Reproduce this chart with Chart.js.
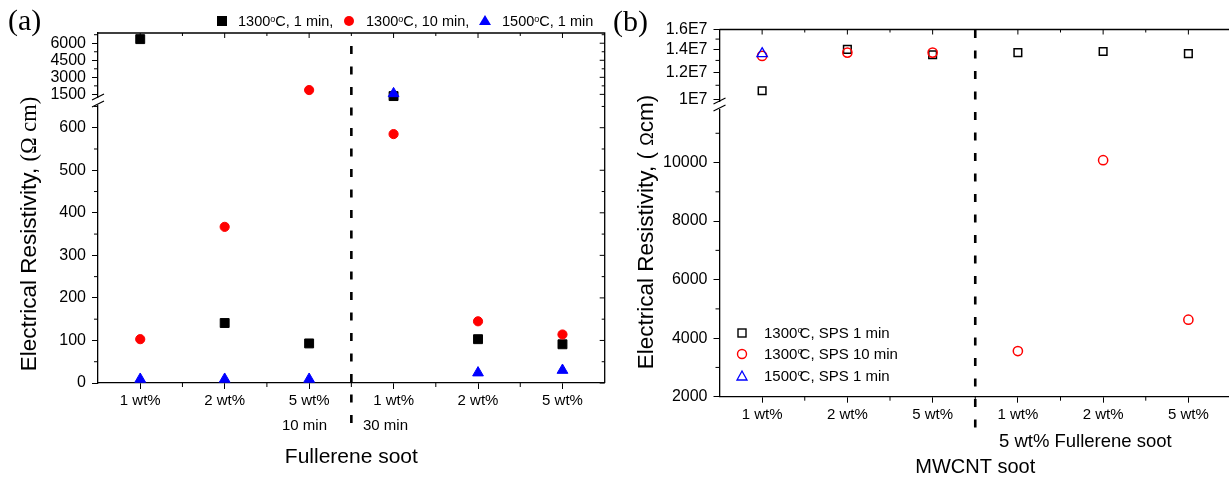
<!DOCTYPE html>
<html>
<head>
<meta charset="utf-8">
<script src="https://cdn.jsdelivr.net/npm/chart.js@4.4.1/dist/chart.umd.min.js"></script>
<style>
html, body { margin: 0; padding: 0; background: #fff; overflow: hidden; }
#wrap { position: relative; width: 1229px; height: 479px; overflow: hidden; font-family: Arial, "Liberation Sans", sans-serif; color: #000; }
.box { position: absolute; top: 0; height: 479px; }
#boxA { left: 0; width: 612px; }
#boxB { left: 612px; width: 630px; }
.t { position: absolute; white-space: nowrap; }
sup { font-size: 0.62em; vertical-align: 0.5em; line-height: 0; }
.ytitle { position: absolute; white-space: nowrap; transform: translate(-50%, -50%) rotate(-90deg); font-size: 22.5px; line-height: 26px; }
svg { position: absolute; overflow: visible; }
</style>
</head>
<body>
<div id="wrap">
  <div class="box" id="boxA"><canvas id="chartA"></canvas></div>
  <div class="box" id="boxB"><canvas id="chartB"></canvas></div>

  <!-- panel letters -->
  <div class="t" style="left:8px; top:2px; font-family:'Liberation Serif','Times New Roman',serif; font-size:30px; line-height:36px;">(a)</div>
  <div class="t" style="left:613px; top:3px; font-family:'Liberation Serif','Times New Roman',serif; font-size:30px; line-height:36px;">(b)</div>

  <!-- y titles -->
  <div class="ytitle" style="left:29px; top:234px;">Electrical Resistivity, <span style="font-family:'Liberation Serif','Times New Roman',serif;">(Ω cm)</span></div>
  <div class="ytitle" style="left:646px; top:232px;">Electrical Resistivity, ( <span style="font-size:0.8em;">Ω</span>cm)</div>

  <!-- legend (a) -->
  <svg style="left:217px; top:16px;" width="10" height="10"><rect x="0" y="0" width="10" height="10" fill="#000"/></svg>
  <div class="t" style="left:238px; top:12px; font-size:14.5px; line-height:18px;">1300<sup>o</sup>C, 1 min,</div>
  <svg style="left:344px; top:16px;" width="10" height="10"><circle cx="5" cy="5" r="5" fill="#f00"/></svg>
  <div class="t" style="left:366px; top:12px; font-size:14.5px; line-height:18px;">1300<sup>o</sup>C, 10 min,</div>
  <svg style="left:479px; top:15px;" width="12" height="10"><polygon points="6,0 12,10 0,10" fill="#00f"/></svg>
  <div class="t" style="left:502px; top:12px; font-size:14.5px; line-height:18px;">1500<sup>o</sup>C, 1 min</div>

  <!-- legend (b) -->
  <svg style="left:738px; top:329px;" width="8" height="8"><rect x="0" y="0" width="8" height="8" fill="none" stroke="#000" stroke-width="1.4"/></svg>
  <div class="t" style="left:764px; top:324px; font-size:15px; line-height:18px;">1300<sup style="margin-right:-3px;">o</sup>C, SPS 1 min</div>
  <svg style="left:737px; top:349px;" width="10" height="10"><circle cx="5" cy="5" r="4.5" fill="none" stroke="#f00" stroke-width="1.4"/></svg>
  <div class="t" style="left:764px; top:345px; font-size:15px; line-height:18px;">1300<sup style="margin-right:-3px;">o</sup>C, SPS 10 min</div>
  <svg style="left:737px; top:371px;" width="10" height="9"><polygon points="5,0 10,9 0,9" fill="none" stroke="#00f" stroke-width="1.3"/></svg>
  <div class="t" style="left:764px; top:367px; font-size:15px; line-height:18px;">1500<sup style="margin-right:-3px;">o</sup>C, SPS 1 min</div>

  <!-- secondary x labels -->
  <div class="t" style="left:282px; top:416px; font-size:15px; line-height:18px;">10 min</div>
  <div class="t" style="left:363px; top:416px; font-size:15px; line-height:18px;">30 min</div>
  <div class="t" style="left:999px; top:430px; font-size:18.5px; line-height:22px;">5 wt% Fullerene soot</div>
</div>

<script>
// categories shared by both panels
const categories = ['1 wt%', '2 wt%', '5 wt%', '1 wt%', '2 wt%', '5 wt%'];

// (a) Fullerene soot, resistivity in ohm cm
const a1300_1min = [6360, 141, 93, 1350, 103, 91];
const a1300_10min = [103, 367, 1880, 585, 145, 114];
const a1500_1min = [9, 9, 9, 1570, 24, 30];
const aCut = 1000;
const aLowTicks = [0, 100, 200, 300, 400, 500, 600];
const aLowMinor = [50, 150, 250, 350, 450, 550, 650];
const aHighTicks = [1500, 3000, 4500, 6000];
const aHighMinor = [2250, 3750, 5250, 6750];

// (b) MWCNT soot
const b1300_1min = [1.06e7, 1.40e7, 1.35e7, 1.37e7, 1.38e7, 1.36e7];
const b1300_10min = [1.34e7, 1.37e7, 1.37e7, 3560, 10080, 4630];
const b1500_1min = [1.36e7, null, null, null, null, null];
const bCut = 1e6;
const bLowTicks = [2000, 4000, 6000, 8000, 10000];
const bLowMinor = [3000, 5000, 7000, 9000, 11000];
const bHighTicks = [1e7, 1.2e7, 1.4e7, 1.6e7];
const bHighTickLabels = ['1E7', '1.2E7', '1.4E7', '1.6E7'];
const bHighMinor = [1.1e7, 1.3e7, 1.5e7];

Chart.defaults.font.family = 'Arial, "Liberation Sans", sans-serif';
Chart.defaults.color = '#000';

function part(values, cut, high) {
    return values.map(v => v == null ? null : ((v >= cut) === high ? v : null));
}

// frame, mirrored ticks, minor ticks, axis break and divider
const decor = {
    id: 'decor',
    afterDraw(chart, args, o) {
        const ctx = chart.ctx, ca = chart.chartArea, x = chart.scales.x;
        const yL = chart.scales.yLow, yH = chart.scales.yHigh;
        ctx.save();
        ctx.strokeStyle = '#000';
        ctx.lineWidth = 1.3;
        ctx.beginPath();
        ctx.moveTo(ca.left, ca.top);
        ctx.lineTo(ca.right, ca.top);
        ctx.lineTo(ca.right, ca.bottom);
        ctx.stroke();

        ctx.lineWidth = 1;
        ctx.beginPath();
        for (let i = 0; i < categories.length; i++) {
            const px = x.getPixelForValue(i);
            ctx.moveTo(px, ca.top); ctx.lineTo(px, ca.top + 5);
            if (i < categories.length - 1) {
                const mx = (px + x.getPixelForValue(i + 1)) / 2;
                ctx.moveTo(mx, ca.bottom); ctx.lineTo(mx, ca.bottom + 4);
                ctx.moveTo(mx, ca.top); ctx.lineTo(mx, ca.top + 3);
            }
        }
        [[yL, o.lowMinor, o.lowTicks], [yH, o.highMinor, o.highTicks]].forEach(([s, minor, major]) => {
            minor.forEach(v => {
                const py = s.getPixelForValue(v);
                if (py < s.top || py > s.bottom) return;
                ctx.moveTo(ca.left, py); ctx.lineTo(ca.left - 4, py);
                if (o.rightTicks) { ctx.moveTo(ca.right, py); ctx.lineTo(ca.right - 3, py); }
            });
            if (o.rightTicks) {
                major.forEach(v => {
                    const py = s.getPixelForValue(v);
                    ctx.moveTo(ca.right, py); ctx.lineTo(ca.right - 5, py);
                });
            }
        });
        ctx.stroke();

        // axis break on the left axis
        const jy = yH.bottom + 1;
        ctx.fillStyle = '#fff';
        ctx.fillRect(ca.left - 2, jy - 3, 4, 7);
        ctx.lineWidth = 1.2;
        ctx.beginPath();
        ctx.moveTo(ca.left - 6, jy - 1); ctx.lineTo(ca.left + 6, jy - 7);
        ctx.moveTo(ca.left - 6, jy + 6); ctx.lineTo(ca.left + 6, jy);
        ctx.stroke();

        // dashed divider between the two groups
        const dx = (x.getPixelForValue(2) + x.getPixelForValue(3)) / 2;
        ctx.lineWidth = 2.6;
        ctx.setLineDash([8, 12.5]);
        ctx.beginPath();
        ctx.moveTo(dx, o.dashTop); ctx.lineTo(dx, o.dashBottom);
        ctx.stroke();
        ctx.restore();
    }
};

function yAxis(extra) {
    return Object.assign({
        position: 'left',
        stack: 'left',
        grid: { drawOnChartArea: false, tickLength: 6, color: '#000' },
        border: { color: '#000', width: 1.3 },
        ticks: { font: { size: 16 }, color: '#000', autoSkip: false, padding: 6, callback: v => String(v) }
    }, extra);
}

function xAxis(title, height, titlePad, titleSize) {
    return {
        type: 'category',
        labels: categories,
        offset: true,
        grid: { offset: false, drawOnChartArea: false, tickLength: 6, color: '#000' },
        border: { color: '#000', width: 1.3 },
        ticks: { font: { size: 15 }, color: '#000', padding: 3, maxRotation: 0, autoSkip: false },
        title: { display: true, text: title, font: { size: titleSize }, color: '#000', padding: { top: 0, bottom: titlePad } },
        afterFit: s => { s.height = height; }
    };
}

function ds(data, axis, style, order) {
    return Object.assign({ data: data, yAxisID: axis, showLine: false, clip: false, order: order }, style);
}

const sqA = { pointStyle: 'rect', pointRadius: 6.3, pointBackgroundColor: '#000', pointBorderColor: '#000', pointBorderWidth: 1 };
const ciA = { pointStyle: 'circle', pointRadius: 4.6, pointBackgroundColor: '#f00', pointBorderColor: '#f00', pointBorderWidth: 1 };
const trA = { pointStyle: 'triangle', pointRadius: 6.2, pointBackgroundColor: '#00f', pointBorderColor: '#00f', pointBorderWidth: 1 };

new Chart(document.getElementById('chartA'), {
    type: 'line',
    data: {
        labels: categories,
        datasets: [
            ds(part(a1300_1min, aCut, false), 'yLow', sqA, 2),
            ds(part(a1300_1min, aCut, true), 'yHigh', sqA, 2),
            ds(part(a1300_10min, aCut, false), 'yLow', ciA, 1),
            ds(part(a1300_10min, aCut, true), 'yHigh', ciA, 1),
            ds(part(a1500_1min, aCut, false), 'yLow', trA, 0),
            ds(part(a1500_1min, aCut, true), 'yHigh', trA, 0)
        ]
    },
    options: {
        responsive: true,
        maintainAspectRatio: false,
        animation: false,
        events: [],
        layout: { padding: { left: 0, right: 7, top: 33, bottom: 0 } },
        plugins: {
            legend: { display: false },
            tooltip: { enabled: false },
            decor: { lowTicks: aLowTicks, lowMinor: aLowMinor, highTicks: aHighTicks, highMinor: aHighMinor, dashTop: 46, dashBottom: 434, rightTicks: true }
        },
        scales: {
            x: xAxis('Fullerene soot', 96, 9, 21),
            yLow: yAxis({
                type: 'linear', min: 0, max: 665, stackWeight: 282.7,
                afterBuildTicks: s => { s.ticks = aLowTicks.map(v => ({ value: v })); },
                afterFit: s => { s.width = 98; }
            }),
            yHigh: yAxis({
                type: 'linear', min: 1000, max: 6900, stackWeight: 67,
                afterBuildTicks: s => { s.ticks = aHighTicks.map(v => ({ value: v })); },
                afterFit: s => { s.width = 98; }
            })
        }
    },
    plugins: [decor]
});

const sqB = { pointStyle: 'rect', pointRadius: 5.4, pointBackgroundColor: 'rgba(0,0,0,0)', pointBorderColor: '#000', pointBorderWidth: 1.5 };
const ciB = { pointStyle: 'circle', pointRadius: 4.6, pointBackgroundColor: 'rgba(0,0,0,0)', pointBorderColor: '#f00', pointBorderWidth: 1.5 };
const trB = { pointStyle: 'triangle', pointRadius: 6, pointBackgroundColor: 'rgba(0,0,0,0)', pointBorderColor: '#00f', pointBorderWidth: 1.3 };

new Chart(document.getElementById('chartB'), {
    type: 'line',
    data: {
        labels: categories,
        datasets: [
            ds(part(b1300_1min, bCut, false), 'yLow', sqB, 2),
            ds(part(b1300_1min, bCut, true), 'yHigh', sqB, 2),
            ds(part(b1300_10min, bCut, false), 'yLow', ciB, 1),
            ds(part(b1300_10min, bCut, true), 'yHigh', ciB, 1),
            ds(part(b1500_1min, bCut, false), 'yLow', trB, 0),
            ds(part(b1500_1min, bCut, true), 'yHigh', trB, 0)
        ]
    },
    options: {
        responsive: true,
        maintainAspectRatio: false,
        animation: false,
        events: [],
        layout: { padding: { left: 0, right: 11, top: 29.5, bottom: 0 } },
        plugins: {
            legend: { display: false },
            tooltip: { enabled: false },
            decor: { lowTicks: bLowTicks, lowMinor: bLowMinor, highTicks: bHighTicks, highMinor: bHighMinor, dashTop: 30, dashBottom: 434, rightTicks: false }
        },
        scales: {
            x: xAxis('MWCNT soot', 82.3, 0, 20),
            yLow: yAxis({
                type: 'linear', min: 2000, max: 12000, stackWeight: 292.7,
                afterBuildTicks: s => { s.ticks = bLowTicks.map(v => ({ value: v })); },
                afterFit: s => { s.width = 107.5; }
            }),
            yHigh: yAxis({
                type: 'logarithmic', min: 9.7e6, max: 1.6e7, stackWeight: 74.5,
                afterBuildTicks: s => { s.ticks = bHighTicks.map(v => ({ value: v })); },
                ticks: { font: { size: 16 }, color: '#000', autoSkip: false, padding: 6,
                    callback: v => bHighTickLabels[bHighTicks.indexOf(v)] },
                afterFit: s => { s.width = 107.5; }
            })
        }
    },
    plugins: [decor]
});
</script>
</body>
</html>
